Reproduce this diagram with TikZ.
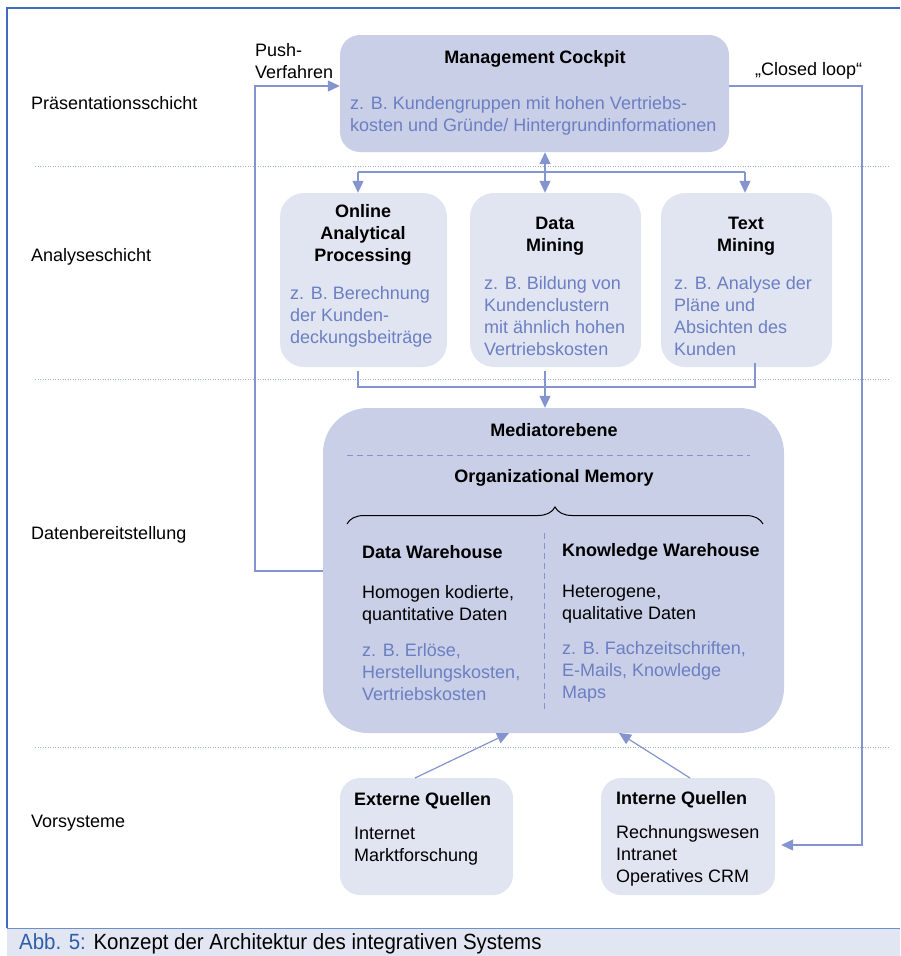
\documentclass[tikz,border=0pt]{standalone}
\usepackage{fontspec}
\setmainfont{Liberation Sans}
\newfontfamily\capfont[FakeStretch=0.93]{Liberation Sans}
\usetikzlibrary{arrows.meta,decorations.pathreplacing,calc}
\definecolor{framecol}{HTML}{3D6CC0}
\definecolor{darkfill}{HTML}{C9CFE7}
\definecolor{lightfill}{HTML}{E1E5F2}
\definecolor{conncol}{HTML}{8494CF}
\definecolor{txtblue}{HTML}{6B7FC2}
\definecolor{sepcol}{HTML}{9DB0D8}
\definecolor{capfill}{HTML}{E2E6F2}
\definecolor{caplinecol}{HTML}{6F8FC8}
\definecolor{capblue}{HTML}{2F5EA8}
\begin{document}
\begin{tikzpicture}[x=1pt,y=-1pt,
  txt/.style={font=\fontsize{18}{22}\selectfont, inner sep=0pt},
  ttl/.style={txt, font=\fontsize{18}{22}\selectfont\bfseries},
  bl/.style={txt, text=txtblue},
  darkbox/.style={fill=darkfill, draw=none, rounded corners=#1},
  lightbox/.style={fill=lightfill, draw=none, rounded corners=#1},
  conn/.style={draw=conncol, line width=1.2pt},
  arr/.style={-{Triangle[length=12pt,width=11pt]}},
  sep/.style={draw=sepcol, line width=0.8pt, dash pattern=on 1pt off 1.5pt},
]
\useasboundingbox (0,0) rectangle (900,956);

% frame
\draw[framecol, line width=1.4pt] (7,928) -- (7,8) -- (900,8);
\fill[capfill] (7,928) rectangle (900,956);
\draw[caplinecol, line width=1pt] (7,928) -- (900,928);
\node[anchor=base west, inner sep=0pt, font=\capfont\fontsize{22}{26}\selectfont] (cap) at (19,949) {\textcolor{capblue}{Abb. 5:} Konzept der Architektur des integrativen Systems};

% separators
\draw[sep] (35,166) -- (888,166);
\draw[sep] (35,379) -- (888,379);
\draw[sep] (35,747) -- (888,747);

% layer labels
\node[txt, anchor=west] (l1) at (31,103) {Präsentationsschicht};
\node[txt, anchor=west] (l2) at (31,257) {Analyseschicht};
\node[txt, anchor=west] (l3) at (31,535) {Datenbereitstellung};
\node[txt, anchor=west] (l4) at (31,823) {Vorsysteme};

% boxes
\node[darkbox=20pt, minimum width=389pt, minimum height=117pt] (mc) at (534.5,93.5) {};
\node[lightbox=24pt, minimum width=167pt, minimum height=174pt] (olap) at (363.5,280) {};
\node[lightbox=24pt, minimum width=171pt, minimum height=174pt] (dm) at (555.5,280) {};
\node[lightbox=24pt, minimum width=171pt, minimum height=174pt] (tm) at (746.5,280) {};
\node[darkbox=45pt, minimum width=461pt, minimum height=325pt] (med) at (553.5,570.5) {};
\node[lightbox=20pt, minimum width=173pt, minimum height=117pt] (eq) at (426.5,836.5) {};
\node[lightbox=20pt, minimum width=174pt, minimum height=117pt] (iq) at (688,836.5) {};

% cockpit texts
\node[ttl] (mct) at (535,59) {Management Cockpit};
\node[bl, anchor=west, align=left] (mcb) at (350,116) {z. B. Kundengruppen mit hohen Vertriebs-\\kosten und Gründe/ Hintergrundinformationen};

% analysis texts
\node[ttl, align=center] (olapt) at (363,235) {Online\\Analytical\\Processing};
\node[bl, anchor=west, align=left] (olapb) at (290,317) {z. B. Berechnung\\der Kunden-\\deckungsbeiträge};
\node[ttl, align=center] (dmt) at (555,236) {Data\\Mining};
\node[bl, anchor=west, align=left] (dmb) at (484,316) {z. B. Bildung von\\Kundenclustern\\mit ähnlich hohen\\Vertriebskosten};
\node[ttl, align=center] (tmt) at (746,236) {Text\\Mining};
\node[bl, anchor=west, align=left] (tmb) at (674,316) {z. B. Analyse der\\Pläne und\\Absichten des\\Kunden};

% mediator texts
\node[ttl] (medt) at (554,430) {Mediatorebene};
\draw[conncol, line width=1pt, dash pattern=on 6pt off 4pt] (347,455) -- (750,455);
\node[ttl] (omt) at (554,478) {Organizational Memory};
\draw[black, line width=1pt, decorate, decoration={brace, amplitude=17pt}] (347,524) -- (763,524);
\draw[conncol, line width=1pt, dash pattern=on 6pt off 4pt] (544,533) -- (544,710);
\node[ttl, anchor=west] (dwt) at (362,552) {Data Warehouse};
\node[txt, anchor=west, align=left] (dwx) at (362,605) {Homogen kodierte,\\quantitative Daten};
\node[bl, anchor=west, align=left] (dwb) at (362,672) {z. B. Erlöse,\\Herstellungskosten,\\Vertriebskosten};
\node[ttl, anchor=west] (kwt) at (562,552) {Knowledge Warehouse};
\node[txt, anchor=west, align=left] (kwx) at (562,604) {Heterogene,\\qualitative Daten};
\node[bl, anchor=west, align=left] (kwb) at (562,672) {z. B. Fachzeitschriften,\\E-Mails, Knowledge\\Maps};

% sources
\node[ttl, anchor=west] (eqt) at (354,801) {Externe Quellen};
\node[txt, anchor=west, align=left] (eqx) at (354,846) {Internet\\Marktforschung};
\node[ttl, anchor=west] (iqt) at (616,800) {Interne Quellen};
\node[txt, anchor=west, align=left] (iqx) at (616,856) {Rechnungswesen\\Intranet\\Operatives CRM};

% side labels
\node[txt, anchor=west, align=left] (push) at (255,61) {Push-\\Verfahren};
\node[txt, anchor=west] (cl) at (755,71) {„Closed loop“};

% connectors
\coordinate (p1) at (255,571);
\coordinate (p2) at (255,86);
\draw[conn, arr] (med.west |- p1) -- (p1) -- (p2) -- (mc.west |- p2);
\coordinate (p3) at (862,86);
\coordinate (p4) at (862,845);
\draw[conn, arr, shorten >=6pt] (mc.east |- p3) -- (p3) -- (p4) -- (iq.east |- p4);

\coordinate (t0) at (545,172);
\coordinate (hl) at (358,172);
\coordinate (hr) at (745,172);
\draw[conn, {Triangle[length=12pt,width=11pt]}-{Triangle[length=12pt,width=11pt]}] (mc.south -| t0) -- (dm.north -| t0);
\draw[conn] (hl) -- (hr);
\draw[conn, arr] (hl) -- (olap.north -| hl);
\draw[conn, arr] (hr) -- (tm.north -| hr);

\coordinate (bl) at (358,387);
\coordinate (bm) at (545,387);
\coordinate (br) at (755,387);
\draw[conn, shorten <=4pt] (olap.south -| bl) -- (bl) -- (br) -- ([yshift=4pt]tm.south -| br);
\draw[conn, shorten <=4pt] (dm.south -| bm) -- (bm);
\draw[conn, arr] (bm) -- (med.north -| bm);

\coordinate (eqa) at (415,778);
\coordinate (meda) at (509,733);
\coordinate (iqa) at (690,778);
\coordinate (medb) at (619,733);
\draw[conn, arr] (eqa) -- (meda);
\draw[conn, arr] (iqa) -- (medb);
\end{tikzpicture}
\end{document}
